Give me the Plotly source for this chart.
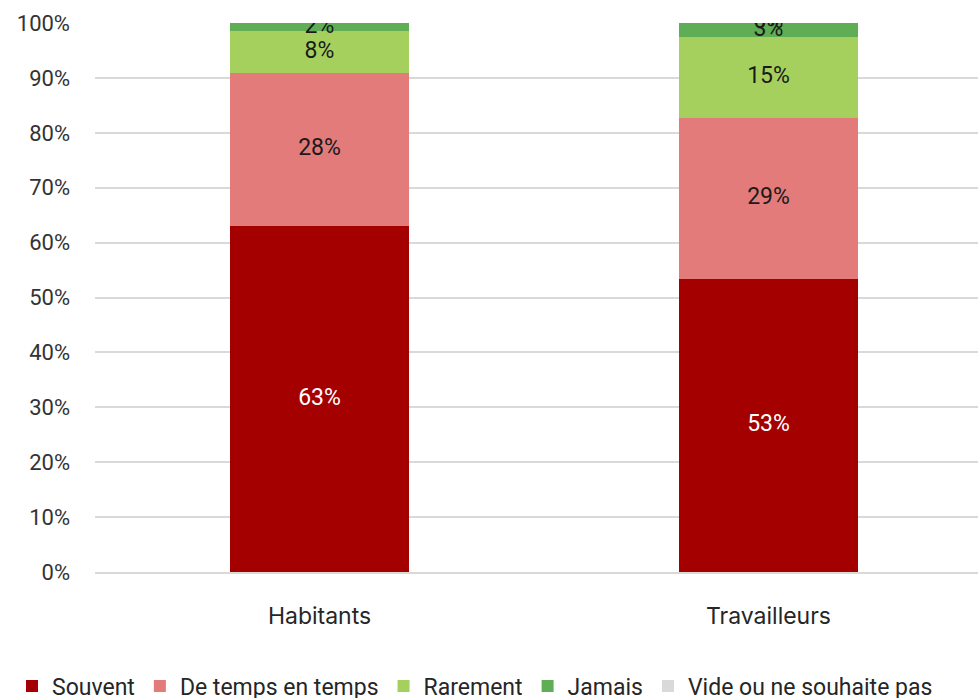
import plotly.graph_objects as go

categories = ["Habitants", "Travailleurs"]
series_names = ["Souvent", "De temps en temps", "Rarement", "Jamais", "Vide ou ne souhaite pas"]
souvent = [63.1, 53.4]
de_temps = [27.8, 29.3]
rarement = [7.6, 14.7]
jamais = [1.5, 2.6]
vide = [0.0, 0.3]
values = [souvent, de_temps, rarement, jamais, vide]
colors = ["#A50000", "#E37B7B", "#A6D05E", "#5FAE55", "#D9D9D9"]
text_colors = ["white", "#1a1a1a", "#1a1a1a", "#1a1a1a", "#1a1a1a"]
tick_vals = [0, 10, 20, 30, 40, 50, 60, 70, 80, 90, 100]
tick_text = [f"{v}%" for v in tick_vals]

NUMFONT = "Roboto"
TXTFONT = "Inter"
W, H = 1600, 740
L, T, PLOT_W, PLOT_B = 95, 23, 898, 572
fig = go.Figure()
for name, vals, col in zip(series_names, values, colors):
    fig.add_trace(go.Bar(name=name, x=categories, y=vals, marker=dict(color=col, line=dict(width=0)),
                         hoverinfo="skip"))

# data labels at segment midpoints
cum = [0.0] * len(categories)
for name, vals, tc in zip(series_names, values, text_colors):
    xs, ys, ts = [], [], []
    for i, v in enumerate(vals):
        if v > 0:
            xs.append(categories[i])
            ys.append(cum[i] + v / 2)
            ts.append(f"{round(v)}%")
        cum[i] += v
    fig.add_trace(go.Scatter(x=xs, y=ys, text=ts, mode="text", showlegend=False,
                             textfont=dict(family=NUMFONT, size=23, color=tc), hoverinfo="skip"))

plot_h = PLOT_B - T
fig.update_layout(
    barmode="stack",
    bargap=0.6,
    width=W, height=H,
    margin=dict(l=L, r=W - L - PLOT_W, t=T, b=H - PLOT_B),
    paper_bgcolor="white", plot_bgcolor="white",
    font=dict(family=NUMFONT, size=22, color="#333333"),
    showlegend=True,
    legend=dict(orientation="h", x=(12 - L) / PLOT_W, xanchor="left",
                y=(PLOT_B - 686) / plot_h, yanchor="middle",
                font=dict(family=NUMFONT, size=23, color="#262626"), itemwidth=30,
                traceorder="normal", tracegroupgap=0),
)
fig.update_yaxes(range=[0, 100], tickvals=tick_vals, ticktext=tick_text, showgrid=True,
                 gridcolor="#D9D9D9", gridwidth=2, zeroline=False, showline=False,
                 ticks="", ticklabelstandoff=24, tickfont=dict(family=NUMFONT, size=22, color="#333333"))
fig.update_xaxes(showline=True, linecolor="#D9D9D9", linewidth=2, ticks="", ticklabelstandoff=22,
                 tickfont=dict(family=TXTFONT, size=23, color="#262626"))

fig.write_html("out.html", config={"displayModeBar": False},
               post_script="document.body.style.margin='0';document.body.style.overflow='hidden';")
